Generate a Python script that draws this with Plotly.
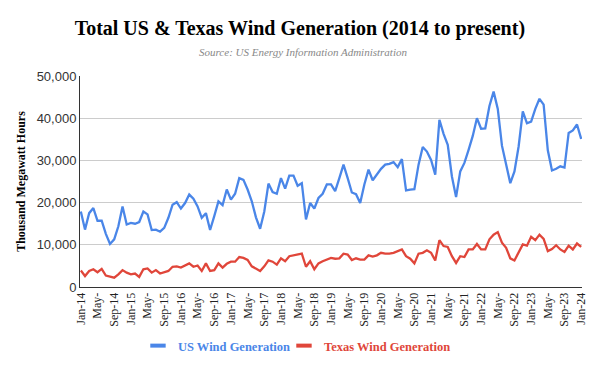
import plotly.graph_objects as go

mon = ["Jan", "Feb", "Mar", "Apr", "May", "Jun", "Jul", "Aug", "Sep", "Oct", "Nov", "Dec"]
months = [f"{mon[i % 12]}-{14 + i // 12}" for i in range(121)]

us_wind = [17900, 13600, 17500, 18700, 15700, 15700, 12600, 10200, 11300, 14400, 19100, 14800,
           15200, 15000, 15400, 17900, 17200, 13500, 13600, 13100, 14000, 16400, 19500, 20100,
           18600, 19900, 21900, 20900, 19100, 16400, 17500, 13500, 16800, 20300, 19400, 23100,
           20700, 22100, 25800, 25400, 23100, 20300, 16500, 13800, 17900, 24500, 22500, 22100,
           25800, 23300, 26400, 26400, 24000, 24600, 16000, 19900, 18600, 21100, 22100, 24300,
           24300, 22700, 25800, 29000, 25800, 22400, 22000, 19900, 24300, 27800, 25300, 26600,
           28000, 29000, 29200, 29600, 28400, 30300, 22900, 23100, 23200, 29000, 33200, 32100,
           30100, 26600, 39600, 36300, 33700, 26200, 21300, 27400, 29400, 32500, 35800, 40000,
           37500, 37600, 42900, 46300, 42200, 33500, 29200, 24600, 27400, 33300, 41600, 38800,
           39200, 42200, 44600, 43200, 32400, 27600, 28000, 28600, 28300, 36500, 37100, 38500,
           35100]

tx_wind = [3900, 2600, 3800, 4200, 3500, 4300, 2700, 2400, 2200, 3000, 4000, 3400,
           3000, 3200, 2400, 4200, 4400, 3400, 4000, 3200, 3500, 3800, 4800, 4900,
           4600, 5200, 5600, 4800, 5100, 3800, 5600, 3800, 4000, 5600, 4600, 5500,
           6000, 6000, 7100, 6900, 6400, 4900, 4400, 3800, 4900, 6300, 6000, 5300,
           6800, 6100, 7300, 7500, 7700, 7900, 4800, 6100, 4200, 5600, 6100, 6500,
           6900, 6700, 6800, 7900, 7700, 6400, 6800, 6500, 6500, 7500, 7200, 7500,
           8100, 7900, 7900, 8100, 8500, 8900, 7300, 6700, 5600, 7900, 8100, 8700,
           8100, 6300, 11100, 9700, 9500, 7300, 5700, 7300, 7100, 8900, 8900, 10200,
           8900, 8900, 11300, 12400, 13000, 10500, 9300, 6800, 6300, 8300, 10100, 9800,
           11900, 11100, 12400, 11400, 8500, 9000, 9900, 8900, 8300, 9800, 8900, 10300,
           9500]

tick_idx = list(range(0, 121, 4))
tick_labels = [("May-" if months[i].startswith("May") else months[i]) for i in tick_idx]
y_ticks = [0, 10000, 20000, 30000, 40000, 50000]
series_names = ["US Wind Generation", "Texas Wind Generation"]

BLUE = "#4a86e8"
RED = "#e0463a"
SERIF = "Liberation Serif, Times New Roman, serif"

fig = go.Figure()
for vals, color in [(us_wind, BLUE), (tx_wind, RED)]:
    fig.add_trace(go.Scatter(x=months, y=vals, mode="lines",
                             line=dict(color=color, width=2.3), showlegend=False))
# legend entries with short thick bar symbols
for name, color in zip(series_names, [BLUE, RED]):
    fig.add_trace(go.Scatter(x=[None], y=[None], mode="markers",
                             marker=dict(symbol="line-ew", size=11, line=dict(width=4, color=color)),
                             name=f'<span style="color:{color}"><b>{name}</b></span>'))
# invisible spacer entry so the last legend label is not clipped
fig.add_trace(go.Scatter(x=[None], y=[None], mode="markers",
                         marker=dict(size=1, color="rgba(0,0,0,0)"), name=" "))

fig.update_layout(
    width=592, height=363,
    margin=dict(l=72, r=18, t=68, b=84, autoexpand=False),
    paper_bgcolor="white", plot_bgcolor="white",
    title=dict(text="<b>Total US & Texas Wind Generation (2014 to present)</b>",
               x=0.493, xanchor="center", y=1 - 20 / 363, yanchor="middle",
               font=dict(family=SERIF, size=20, color="black")),
    annotations=[dict(text="<i>Source: US Energy Information Administration</i>",
                      xref="paper", yref="paper", x=0.445, y=1.0, yshift=24,
                      xanchor="center", yanchor="middle", showarrow=False,
                      font=dict(family=SERIF, size=11, color="#888888"))],
    showlegend=True,
    legend=dict(orientation="h", xref="paper", x=0.1155, xanchor="left",
                yref="container", y=1 - 338 / 363, yanchor="middle",
                font=dict(family=SERIF, size=12.5), itemwidth=30,
                entrywidth=101, entrywidthmode="pixels", bgcolor="rgba(0,0,0,0)"),
    xaxis=dict(type="category", categoryorder="array", categoryarray=months,
               range=[-0.2, 120.2], automargin=False,
               tickmode="array", tickvals=[months[i] for i in tick_idx], ticktext=tick_labels,
               tickangle=-90, tickfont=dict(family=SERIF, size=12, color="#222222"),
               showgrid=False, showline=True, linecolor="#333333", linewidth=1,
               ticks="", zeroline=False),
    yaxis=dict(range=[0, 50000], tickvals=y_ticks, tickformat=",d", automargin=False,
               tickfont=dict(family="Liberation Sans, Arial, sans-serif", size=13, color="#333333"),
               showgrid=True, gridcolor="#cccccc", gridwidth=1,
               showline=True, linecolor="#333333", linewidth=1, zeroline=False,
               title=dict(text="<b>Thousand Megawatt Hours</b>", standoff=8,
                          font=dict(family=SERIF, size=12, color="black"))),
)

fig.write_html("out.html")
